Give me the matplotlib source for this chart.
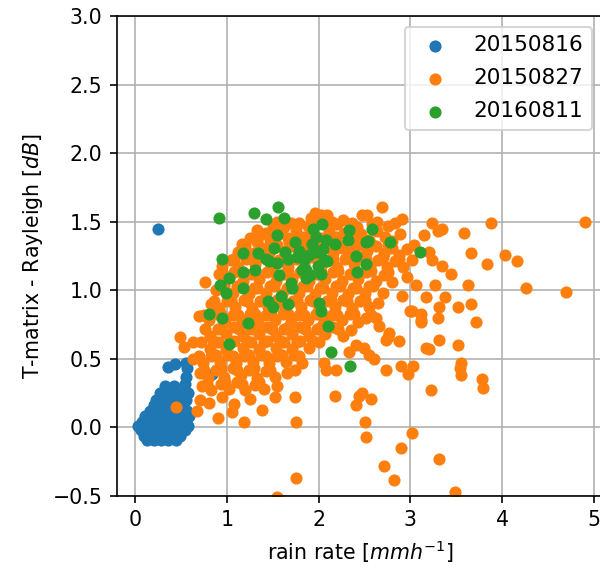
import matplotlib
matplotlib.use("Agg")
import matplotlib.pyplot as plt
import numpy as np

# rain rate [mm/h], T-matrix minus Rayleigh [dB]
labels = ["20150816", "20150827", "20160811"]

pts_20150816 = [
    (0.25, 1.45), (0.84, 0.39),
    (0.13, -0.09), (0.20, -0.09), (0.28, -0.09), (0.36, -0.09), (0.44, -0.09),
    (0.09, -0.06), (0.17, -0.06), (0.25, -0.06), (0.33, -0.06), (0.41, -0.06), (0.49, -0.06),
    (0.06, -0.02), (0.14, -0.02), (0.22, -0.02), (0.30, -0.02), (0.38, -0.02), (0.46, -0.02), (0.54, -0.02),
    (0.03, 0.01), (0.10, 0.01), (0.18, 0.01), (0.26, 0.01), (0.34, 0.01), (0.42, 0.01), (0.50, 0.01), (0.57, 0.01),
    (0.07, 0.04), (0.15, 0.04), (0.23, 0.04), (0.31, 0.04), (0.39, 0.04), (0.47, 0.04), (0.55, 0.04),
    (0.11, 0.08), (0.19, 0.08), (0.27, 0.08), (0.35, 0.08), (0.43, 0.08), (0.51, 0.08), (0.58, 0.08),
    (0.16, 0.12), (0.24, 0.12), (0.32, 0.12), (0.40, 0.12), (0.48, 0.12), (0.56, 0.12),
    (0.20, 0.16), (0.28, 0.16), (0.36, 0.16), (0.44, 0.16), (0.52, 0.16),
    (0.23, 0.20), (0.31, 0.20), (0.39, 0.20), (0.47, 0.20), (0.55, 0.20),
    (0.27, 0.25), (0.38, 0.25), (0.47, 0.25), (0.57, 0.25),
    (0.32, 0.30), (0.42, 0.30), (0.54, 0.32), (0.55, 0.37),
    (0.36, 0.44), (0.43, 0.46), (0.55, 0.47), (0.56, 0.43),
]

pts_20150827 = [
    # top fringe
    (1.33, 1.44), (1.43, 1.42), (1.55, 1.50), (1.62, 1.46), (1.70, 1.49), (1.79, 1.49),
    (1.88, 1.47), (1.92, 1.53), (1.96, 1.56), (2.03, 1.55), (2.09, 1.55), (2.14, 1.50),
    (2.20, 1.48), (2.27, 1.51), (2.36, 1.49), (2.47, 1.55), (2.53, 1.55), (2.58, 1.48),
    (2.64, 1.50), (2.69, 1.61), (2.75, 1.47), (2.83, 1.49), (2.91, 1.52), (3.23, 1.49),
    (3.34, 1.45), (3.58, 1.42), (3.88, 1.49), (4.90, 1.50), (1.50, 1.46), (2.00, 1.50),
    (2.42, 1.46),
    # 1.35 - 1.45
    (1.25, 1.38), (1.36, 1.40), (1.47, 1.37), (1.58, 1.42), (1.67, 1.38), (1.75, 1.43),
    (1.84, 1.39), (1.93, 1.42), (2.02, 1.38), (2.11, 1.43), (2.19, 1.39), (2.28, 1.42),
    (2.37, 1.38), (2.46, 1.41), (2.55, 1.37), (2.63, 1.43), (2.72, 1.39), (2.80, 1.36),
    (2.89, 1.41), (3.15, 1.40), (3.30, 1.43),
    # 1.25 - 1.35
    (1.12, 1.28), (1.20, 1.32), (1.29, 1.27), (1.38, 1.31), (1.46, 1.27), (1.55, 1.33),
    (1.63, 1.29), (1.72, 1.32), (1.81, 1.27), (1.90, 1.33), (1.99, 1.29), (2.07, 1.32),
    (2.16, 1.27), (2.25, 1.31), (2.34, 1.28), (2.44, 1.33), (2.53, 1.29), (2.62, 1.32),
    (2.71, 1.27), (2.80, 1.31), (2.87, 1.26), (2.96, 1.30), (3.20, 1.28), (3.04, 1.33),
    # 1.15 - 1.25
    (0.95, 1.18), (1.04, 1.22), (1.12, 1.17), (1.21, 1.23), (1.30, 1.19), (1.39, 1.24),
    (1.48, 1.18), (1.57, 1.22), (1.66, 1.17), (1.75, 1.23), (1.84, 1.19), (1.93, 1.24),
    (2.02, 1.18), (2.11, 1.22), (2.20, 1.17), (2.29, 1.23), (2.38, 1.19), (2.47, 1.24),
    (2.56, 1.18), (2.65, 1.22), (2.74, 1.17), (2.83, 1.21), (2.92, 1.17), (3.02, 1.22),
    (3.23, 1.22), (3.34, 1.18), (3.66, 1.27), (4.03, 1.26), (4.16, 1.21), (3.83, 1.19),
    # 1.05 - 1.15
    (0.91, 1.12), (0.99, 1.08), (1.08, 1.13), (1.17, 1.07), (1.26, 1.12), (1.35, 1.08),
    (1.44, 1.13), (1.53, 1.07), (1.62, 1.12), (1.71, 1.08), (1.80, 1.13), (1.89, 1.07),
    (1.98, 1.12), (2.07, 1.08), (2.16, 1.13), (2.25, 1.07), (2.34, 1.12), (2.43, 1.08),
    (2.52, 1.13), (2.62, 1.07), (2.71, 1.11), (2.80, 1.06), (2.96, 1.10), (3.44, 1.12),
    (0.76, 1.06),
    # 0.95 - 1.05
    (0.88, 1.00), (0.97, 1.03), (1.06, 0.98), (1.15, 1.03), (1.24, 0.97), (1.33, 1.02),
    (1.42, 0.98), (1.51, 1.03), (1.60, 0.97), (1.69, 1.02), (1.78, 0.98), (1.87, 1.03),
    (1.96, 0.97), (2.05, 1.02), (2.14, 0.98), (2.23, 1.03), (2.32, 0.97), (2.41, 1.02),
    (2.50, 0.98), (2.59, 1.03), (2.70, 0.98), (2.91, 0.96), (3.06, 1.04), (3.27, 1.04),
    (3.63, 1.04), (4.26, 1.02), (4.70, 0.99),
    # 0.85 - 0.95
    (0.82, 0.90), (0.91, 0.87), (1.00, 0.92), (1.09, 0.88), (1.18, 0.93), (1.27, 0.87),
    (1.36, 0.92), (1.45, 0.88), (1.54, 0.93), (1.63, 0.87), (1.72, 0.92), (1.81, 0.88),
    (1.90, 0.93), (2.00, 0.87), (2.09, 0.92), (2.18, 0.88), (2.27, 0.93), (2.36, 0.87),
    (2.45, 0.92), (2.55, 0.88), (2.65, 0.91), (3.02, 0.85), (3.17, 0.95), (3.38, 0.95),
    (3.31, 0.88), (3.52, 0.88), (3.66, 0.90),
    # 0.75 - 0.85
    (0.69, 0.81), (0.80, 0.78), (0.89, 0.83), (0.98, 0.77), (1.07, 0.82), (1.16, 0.78),
    (1.25, 0.83), (1.34, 0.77), (1.43, 0.82), (1.52, 0.78), (1.61, 0.83), (1.70, 0.77),
    (1.79, 0.82), (1.88, 0.78), (1.97, 0.83), (2.06, 0.77), (2.15, 0.82), (2.25, 0.78),
    (2.34, 0.83), (2.43, 0.77), (2.52, 0.80), (2.62, 0.80), (3.00, 0.85), (3.12, 0.83),
    (3.11, 0.78), (3.30, 0.80), (3.72, 0.77), (3.12, 0.77),
    # 0.65 - 0.75
    (0.81, 0.67), (0.90, 0.72), (0.99, 0.68), (1.08, 0.73), (1.17, 0.67), (1.26, 0.72),
    (1.35, 0.68), (1.44, 0.73), (1.53, 0.67), (1.62, 0.72), (1.71, 0.68), (1.80, 0.73),
    (1.89, 0.67), (1.98, 0.72), (2.07, 0.68), (2.16, 0.73), (2.26, 0.67), (2.35, 0.71),
    (2.66, 0.74), (2.77, 0.69), (2.75, 0.66), (2.87, 0.63), (2.73, 0.64), (0.49, 0.66),
    # 0.55 - 0.65
    (0.53, 0.59), (0.72, 0.62), (0.81, 0.57), (0.90, 0.62), (0.99, 0.57), (1.08, 0.63),
    (1.17, 0.58), (1.26, 0.62), (1.35, 0.57), (1.44, 0.63), (1.53, 0.58), (1.62, 0.62),
    (1.71, 0.57), (1.80, 0.63), (1.89, 0.58), (2.00, 0.62), (2.41, 0.60), (2.49, 0.58),
    (2.33, 0.55), (3.31, 0.64), (3.20, 0.57), (3.52, 0.60), (3.17, 0.58),
    # 0.45 - 0.55
    (0.63, 0.50), (0.74, 0.47), (0.83, 0.52), (0.92, 0.48), (1.01, 0.53), (1.10, 0.47),
    (1.19, 0.52), (1.28, 0.48), (1.37, 0.53), (1.46, 0.47), (1.55, 0.52), (1.64, 0.48),
    (1.73, 0.53), (1.82, 0.47), (2.06, 0.47), (2.55, 0.53), (2.60, 0.50), (2.90, 0.45),
    (3.03, 0.45), (3.55, 0.47),
    # 0.35 - 0.45
    (0.70, 0.40), (0.79, 0.36), (0.88, 0.42), (0.97, 0.37), (1.06, 0.43), (1.15, 0.38),
    (1.24, 0.42), (1.33, 0.36), (1.42, 0.41), (1.52, 0.37), (1.65, 0.40), (1.74, 0.42),
    (2.08, 0.42), (2.19, 0.42), (2.73, 0.42), (2.97, 0.39), (3.54, 0.43), (3.55, 0.38),
    (3.78, 0.35),
    # 0.25 - 0.35
    (0.73, 0.30), (0.83, 0.27), (0.93, 0.32), (1.02, 0.28), (1.11, 0.33), (1.20, 0.27),
    (1.30, 0.31), (1.40, 0.28), (1.55, 0.30), (3.79, 0.29), (3.22, 0.27), (2.47, 0.25),
    # 0.15 - 0.25
    (0.70, 0.20), (0.80, 0.18), (0.95, 0.22), (1.08, 0.17), (1.25, 0.21), (1.52, 0.22),
    (1.74, 0.22), (2.18, 0.23), (2.41, 0.16), (2.44, 0.23), (2.57, 0.21), (0.44, 0.15),
    # below 0.15
    (0.67, 0.12), (0.90, 0.07), (1.05, 0.11), (1.18, 0.04), (1.38, 0.13), (1.75, 0.04),
    (2.50, 0.04), (2.51, -0.07), (3.02, -0.04), (2.90, -0.15), (2.71, -0.28),
    (2.82, -0.38), (3.31, -0.23), (3.49, -0.47), (1.54, -0.51), (1.75, -0.37),
    # dense core, filling between the rows above
    (1.16, 1.34), (1.33, 1.35), (1.50, 1.34), (1.68, 1.35), (1.86, 1.34), (2.03, 1.35),
    (2.21, 1.34), (2.39, 1.35), (2.57, 1.34), (2.75, 1.33),
    (1.08, 1.23), (1.26, 1.24), (1.44, 1.23), (1.62, 1.24), (1.80, 1.23), (1.98, 1.24),
    (2.16, 1.23), (2.34, 1.24), (2.52, 1.23), (2.70, 1.24), (2.88, 1.23),
    (0.95, 1.13), (1.13, 1.14), (1.31, 1.13), (1.49, 1.14), (1.67, 1.13), (1.85, 1.14),
    (2.03, 1.13), (2.21, 1.14), (2.39, 1.13), (2.57, 1.14), (2.76, 1.13),
    (0.93, 1.02), (1.11, 1.03), (1.29, 1.02), (1.47, 1.03), (1.65, 1.02), (1.83, 1.03),
    (2.01, 1.02), (2.19, 1.03), (2.37, 1.02), (2.55, 1.03),
    (0.86, 0.92), (1.04, 0.93), (1.22, 0.92), (1.40, 0.93), (1.58, 0.92), (1.76, 0.93),
    (1.94, 0.92), (2.13, 0.93), (2.31, 0.92), (2.50, 0.93),
    (0.75, 0.82), (0.93, 0.83), (1.12, 0.82), (1.30, 0.83), (1.48, 0.82), (1.66, 0.83),
    (1.84, 0.82), (2.02, 0.83), (2.20, 0.82), (2.38, 0.83), (2.57, 0.82),
    (0.76, 0.72), (0.95, 0.73), (1.13, 0.72), (1.31, 0.73), (1.49, 0.72), (1.67, 0.73),
    (1.85, 0.72), (2.03, 0.73), (2.21, 0.72),
    (0.63, 0.62), (0.85, 0.63), (1.03, 0.62), (1.22, 0.63), (1.40, 0.62), (1.58, 0.63),
    (1.76, 0.62), (1.94, 0.63),
    (0.69, 0.52), (0.88, 0.53), (1.06, 0.52), (1.24, 0.53), (1.42, 0.52), (1.60, 0.53),
    (1.78, 0.52),
    (0.75, 0.42), (0.93, 0.43), (1.11, 0.42), (1.29, 0.43), (1.47, 0.42),
    (0.78, 0.32), (0.98, 0.33), (1.16, 0.32), (1.35, 0.33),
]

pts_20160811 = [
    (0.91, 1.53), (1.29, 1.56), (1.56, 1.61), (1.62, 1.53), (1.43, 1.52), (2.04, 1.48),
    (2.33, 1.44), (1.54, 1.40), (1.17, 1.27), (0.95, 1.23), (1.34, 1.27), (1.51, 1.31),
    (1.63, 1.28), (1.74, 1.35), (1.78, 1.29), (1.93, 1.34), (1.97, 1.28), (2.08, 1.37),
    (2.18, 1.34), (2.32, 1.37), (2.41, 1.25), (2.52, 1.35), (2.42, 1.13), (1.82, 1.15),
    (1.86, 1.09), (1.70, 1.05), (1.71, 1.02), (1.57, 1.11), (1.42, 1.23), (1.46, 1.21),
    (1.55, 1.20), (1.67, 1.23), (1.30, 1.15), (1.17, 1.13), (1.02, 1.09), (0.92, 1.04),
    (1.17, 1.02), (0.99, 0.98), (1.59, 0.96), (1.45, 0.92), (1.50, 0.88), (1.66, 0.90),
    (0.80, 0.83), (0.94, 0.80), (1.23, 0.76), (2.00, 0.91), (2.02, 0.85), (2.10, 0.74),
    (1.02, 0.61), (2.13, 0.55), (2.34, 0.45), (1.95, 1.29), (1.89, 1.26), (1.76, 1.24),
    (1.84, 1.22), (1.90, 1.11), (2.09, 1.21), (2.58, 1.45), (2.54, 1.36), (2.78, 1.35),
    (2.51, 1.19), (3.10, 1.28), (1.97, 1.39), (2.06, 1.22), (1.86, 1.15), (1.99, 1.18),
    (2.03, 1.12), (1.94, 1.45), (2.05, 1.30),
]

series = [pts_20150816, pts_20150827, pts_20160811]

fig = plt.figure(figsize=(600 / 148, 568 / 148), dpi=148)
ax = fig.add_axes([117 / 600, 72 / 568, 486 / 600, 480 / 568])

for pts, lab in zip(series, labels):
    arr = np.array(pts)
    ax.scatter(arr[:, 0], arr[:, 1], s=24, label=lab, zorder=2)

ax.set_xlim(-0.2, 5.1)
ax.set_ylim(-0.5, 3.0)
ax.set_xticks([0, 1, 2, 3, 4, 5])
ax.grid(True, zorder=0)
ax.set_axisbelow(True)
ax.set_xlabel("rain rate [$mmh^{-1}$]")
ax.set_ylabel("T-matrix - Rayleigh [$dB$]")
ax.legend(loc="upper right", fontsize=10.5, labelspacing=0.6)

fig.savefig("out.png", dpi=148)
